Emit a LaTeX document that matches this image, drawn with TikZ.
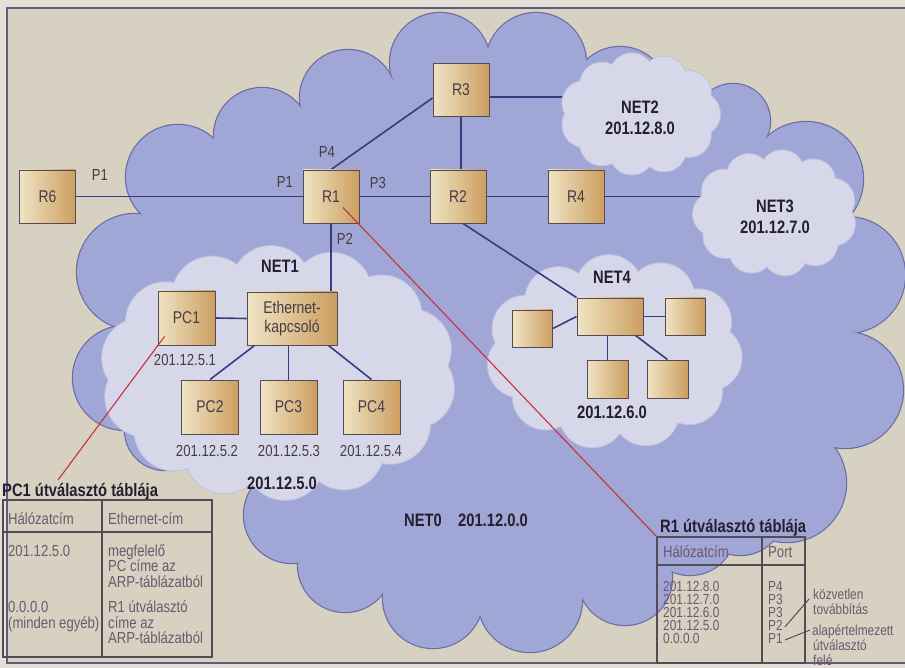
\documentclass[tikz,border=0pt]{standalone}
\usepackage{fontspec}
\setmainfont{Liberation Sans}[FakeStretch=0.82]
\usetikzlibrary{calc}
\definecolor{paper}{RGB}{215,209,193}
\definecolor{outer}{RGB}{228,224,214}
\definecolor{framec}{RGB}{95,90,130}
\definecolor{netzero}{RGB}{160,166,214}
\definecolor{netzeroline}{RGB}{108,108,165}
\definecolor{netsub}{RGB}{214,216,234}
\definecolor{netsubline}{RGB}{190,192,224}
\definecolor{boxlight}{RGB}{240,228,196}
\definecolor{boxdark}{RGB}{204,158,96}
\definecolor{boxline}{RGB}{85,75,85}
\definecolor{linkc}{RGB}{58,58,128}
\definecolor{redc}{RGB}{205,45,60}
\definecolor{labelc}{RGB}{70,60,72}
\definecolor{boldc}{RGB}{38,30,48}
\definecolor{tabc}{RGB}{110,88,108}
\pgfdeclarelayer{bgl}
\pgfdeclarelayer{cloudlinks}
\pgfdeclarelayer{subclouds}
\pgfdeclarelayer{edges}
\pgfsetlayers{bgl,cloudlinks,subclouds,edges,main}
\newcommand{\cloudring}[8]{%
  \foreach \cang in {1,...,#6}{%
    \path[#8] ({#1+(#3-#5)*cos(360*\cang/#6+#7)},{#2+(#4-#5)*sin(360*\cang/#6+#7)}) circle[radius=#5pt];
  }%
}
\newcommand{\subcloud}[7]{%
  \cloudring{#1}{#2}{#3}{#4}{#5}{#6}{#7}{draw=netsubline, line width=2pt}
  \cloudring{#1}{#2}{#3}{#4}{#5}{#6}{#7}{fill=netsub}
  \fill[netsub] (#1,#2) ellipse[x radius={#3pt-#5pt}, y radius={#4pt-#5pt}];
}
\tikzset{
  router/.style={draw=boxline, line width=0.9pt, left color=boxlight, right color=boxdark,
    minimum width=56pt, minimum height=53pt, inner sep=0pt, text=labelc,
    font=\fontsize{17}{19}\selectfont},
  pcbox/.style={router, minimum width=57pt, minimum height=54pt},
  smallbox/.style={router, minimum width=40pt, minimum height=37pt},
  link/.style={draw=linkc, line width=1.6pt},
  redline/.style={draw=redc, line width=1.1pt},
  lbl/.style={text=labelc, font=\fontsize{16}{18}\selectfont, inner sep=0pt},
  netlbl/.style={text=boldc, font=\bfseries\fontsize{18}{20}\selectfont, inner sep=0pt},
  tabtxt/.style={text=tabc, font=\fontsize{16}{18}\selectfont, inner sep=0pt, anchor=base west},
  rowtxt/.style={tabtxt, font=\fontsize{14.5}{15}\selectfont},
  anntxt/.style={text=tabc, font=\fontsize{14.5}{15}\selectfont, inner sep=0pt, anchor=base west},
  tabtitle/.style={text=boldc, font=\bfseries\fontsize{18}{20}\selectfont, inner sep=0pt, anchor=base west},
  tabline/.style={draw=boxline, line width=1.2pt},
  leader/.style={draw=boxline, line width=1pt},
}
\begin{document}
\begin{tikzpicture}[x=1pt,y=-1pt]
\useasboundingbox (0,0) rectangle (905,668);
% ---------- nodes ----------
\node[router] (R6) at (47.5,196.5) {R6};
\node[router] (R1) at (331,196.5) {R1};
\node[router] (R2) at (458,196.5) {R2};
\node[router] (R3) at (461,90) {R3};
\node[router] (R4) at (576,196.5) {R4};
\node[pcbox] (PC1) at (186.5,318) {PC1};
\node[pcbox, minimum width=90pt, minimum height=53pt, align=center] (SW) at (292,318.5) {Ethernet-\\kapcsoló};
\node[pcbox] (PC2) at (210,407) {PC2};
\node[pcbox] (PC3) at (288.5,407) {PC3};
\node[pcbox] (PC4) at (371.5,407) {PC4};
\node[smallbox, minimum width=66pt] (N4c) at (610,316.5) {};
\node[smallbox] (N4l) at (532.5,328.5) {};
\node[smallbox] (N4r) at (685,316.5) {};
\node[smallbox, minimum width=41pt, minimum height=38pt] (N4b1) at (607.5,379) {};
\node[smallbox, minimum width=41pt, minimum height=38pt] (N4b2) at (667.5,379) {};
% port labels
\node[lbl] (p1a) at (100,175) {P1};
\node[lbl] (p1b) at (285,182) {P1};
\node[lbl] (p4) at (327,152) {P4};
\node[lbl] (p3) at (378,183) {P3};
\node[lbl] (p2) at (345,239) {P2};
% addresses
\node[lbl] (a51) at (185,360) {201.12.5.1};
\node[lbl] (a52) at (207,451) {201.12.5.2};
\node[lbl] (a53) at (289,451) {201.12.5.3};
\node[lbl] (a54) at (371,451) {201.12.5.4};
% network labels
\node[netlbl] (n1) at (280,266) {NET1};
\node[netlbl] (n1b) at (282,483) {201.12.5.0};
\node[netlbl] (n2a) at (640,107) {NET2};
\node[netlbl] (n2b) at (640,128) {201.12.8.0};
\node[netlbl] (n3a) at (775,206) {NET3};
\node[netlbl] (n3b) at (775,227) {201.12.7.0};
\node[netlbl] (n4a) at (612,277) {NET4};
\node[netlbl] (n4b) at (612,412) {201.12.6.0};
\node[netlbl] (n0a) at (423,520) {NET0};
\node[netlbl] (n0b) at (493,520) {201.12.0.0};
% ---------- PC1 table ----------
\node[tabtitle] (t1) at (2,496) {PC1 útválasztó táblája};
\draw[tabline] (3,500) rectangle (212,657);
\draw[tabline] (102,500) -- (102,657);
\draw[tabline] (3,532) -- (212,532);
\node[tabtxt] (h1a) at (8,524) {Hálózatcím};
\node[tabtxt] (h1b) at (108,524) {Ethernet-cím};
\node[tabtxt] (c11) at (8,556) {201.12.5.0};
\node[tabtxt] (c12) at (108,556) {megfelelő};
\node[tabtxt] (c13) at (108,571.5) {PC címe az};
\node[tabtxt] (c14) at (108,587) {ARP-táblázatból};
\node[tabtxt] (c21) at (8,612.5) {0.0.0.0};
\node[tabtxt] (c22) at (8,628) {(minden egyéb)};
\node[tabtxt] (c23) at (108,612.5) {R1 útválasztó};
\node[tabtxt] (c24) at (108,628) {címe az};
\node[tabtxt] (c25) at (108,643.5) {ARP-táblázatból};
\coordinate (pc1tit) at (58,480);
% ---------- R1 table ----------
\node[tabtitle] (t2) at (660,532) {R1 útválasztó táblája};
\draw[tabline] (657,537) rectangle (805,663);
\draw[tabline] (762,537) -- (762,663);
\draw[tabline] (657,565) -- (805,565);
\coordinate (r1tab) at (657,537);
\node[tabtxt] (h2a) at (663,557.5) {Hálózatcím};
\node[tabtxt] (h2b) at (768,557.5) {Port};
\node[rowtxt] (r1) at (663,591) {201.12.8.0};
\node[rowtxt] (r2) at (663,604) {201.12.7.0};
\node[rowtxt] (r3) at (663,617) {201.12.6.0};
\node[rowtxt] (r4) at (663,630) {201.12.5.0};
\node[rowtxt] (r5) at (663,643) {0.0.0.0};
\node[rowtxt] (q1) at (768,591) {P4};
\node[rowtxt] (q2) at (768,604) {P3};
\node[rowtxt] (q3) at (768,617) {P3};
\node[rowtxt] (q4) at (768,630) {P2};
\node[rowtxt] (q5) at (768,643) {P1};
\node[anntxt] (k1) at (813,599) {közvetlen};
\node[anntxt] (k2) at (813,614) {továbbítás};
\node[anntxt] (k3) at (812,635) {alapértelmezett};
\node[anntxt] (k4) at (813,650) {útválasztó};
\node[anntxt] (k5) at (813,665) {felé};
\draw[leader] ($(q4.east)+(2,2)$) -- ($(k1.base west)+(-4,0)$);
\draw[leader] ($(q5.east)+(2,2)$) -- ($(k3.base west)+(-2,-5)$);
% ---------- red pointer lines ----------
\draw[redline] ($(R1.center)+(12,11)$) -- (r1tab);
\draw[redline] ($(PC1.south west)+(7,-9)$) -- (pc1tit);
% ---------- connectors ----------
\begin{pgfonlayer}{edges}
\draw[link] (R6.east) -- (R1.west);
\draw[link] (R1.east) -- (R2.west);
\draw[link] (R2.east) -- (R4.west);
\draw[link] (R1.north) -- ($(R3.west)+(0,8)$);
\draw[link] (R3.south) -- (R3.south |- R2.north);
\draw[link] ($(R2.south)+(5,0)$) -- (N4c.north west);
\draw[link] (R1.south) -- (R1.south |- SW.north);
\draw[link] (PC1.east) -- (SW.west);
\draw[link] ($(SW.south west)+(8,0)$) -- (PC2.north);
\draw[link] (SW.south -| PC3.north) -- (PC3.north);
\draw[link] ($(SW.south east)+(-9,0)$) -- (PC4.north);
\draw[link] (N4c.west) -- (N4l.east);
\draw[link] (N4c.east) -- (N4r.west);
\draw[link] (N4c.south -| N4b1.north) -- (N4b1.north);
\draw[link] ($(N4c.south east)+(-8,0)$) -- (N4b2.north);
\end{pgfonlayer}
\begin{pgfonlayer}{cloudlinks}
\coordinate (n2in) at (572,97);
\coordinate (n3in) at (705,196.5);
\draw[link] ($(R3.east)+(0,7)$) -- (n2in);
\draw[link] (R4.east) -- (n3in);
\end{pgfonlayer}
% ---------- background and clouds ----------
\begin{pgfonlayer}{bgl}
\fill[outer] (0,0) rectangle (905,668);
\fill[paper] (7,8) rectangle (905,663);
\draw[framec, line width=1.2pt] (905,8) -- (7,8) -- (7,663) -- (905,663);
\foreach \cx/\cy/\cr in {178/177/52, 262/136/48, 348/98/48, 440/63/50, 536/63/50, 620/95/48, 733/121/37, 806/179/57, 847/275/58, 845/390/58, 787/483/59, 740/510/45, 690/530/45, 625/578/47, 530/600/52, 433/598/50, 345/565/47, 292/515/48, 215/440/40, 165/430/40, 125/378/52, 135/272/58}
  \draw[netzeroline, line width=2.4pt] (\cx,\cy) circle[radius=\cr pt];
\foreach \cx/\cy/\cr in {178/177/52, 262/136/48, 348/98/48, 440/63/50, 536/63/50, 620/95/48, 733/121/37, 806/179/57, 847/275/58, 845/390/58, 787/483/59, 740/510/45, 690/530/45, 625/578/47, 530/600/52, 433/598/50, 345/565/47, 292/515/48, 215/440/40, 165/430/40, 125/378/52, 135/272/58}
  \fill[netzero] (\cx,\cy) circle[radius=\cr pt];
\fill[netzero] (178,177) -- (262,136) -- (348,98) -- (440,63) -- (536,63) -- (620,95) -- (733,121) -- (806,179) -- (847,275) -- (845,390) -- (787,483) -- (740,510) -- (690,530) -- (625,578) -- (530,600) -- (433,598) -- (345,565) -- (292,515) -- (215,440) -- (165,430) -- (125,378) -- (135,272) -- cycle;
\end{pgfonlayer}
\begin{pgfonlayer}{subclouds}
\subcloud{278}{373}{178}{127}{40}{14}{10}
\subcloud{640}{114}{80}{61}{22}{11}{0}
\subcloud{775}{213}{82}{63}{22}{11}{15}
\subcloud{614}{352}{128}{97}{33}{11}{5}
\end{pgfonlayer}
\end{tikzpicture}
\end{document}
